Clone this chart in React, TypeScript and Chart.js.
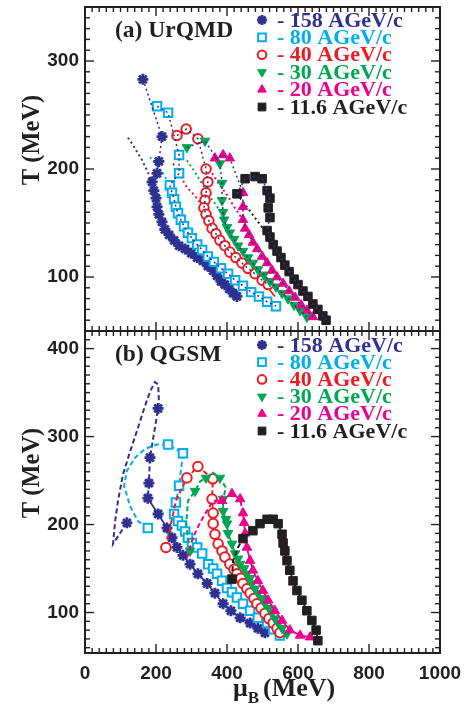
import React, { useEffect, useRef } from 'react';
import { Chart, registerables } from 'chart.js';
import { drawPoint } from 'chart.js/helpers';
Chart.register(...registerables);

// ---------- labels & ticks ----------
const seriesLabels = ['- 158 AGeV/c', '- 80 AGeV/c', '- 40 AGeV/c', '- 30 AGeV/c', '- 20 AGeV/c', '- 11.6 AGeV/c'];
const xTicks = [0, 200, 400, 600, 800, 1000];
const yTicksTop = [100, 200, 300];
const yTicksBottom = [100, 200, 300, 400];
const panelTopLabel = '(a) UrQMD';
const panelBottomLabel = '(b) QGSM';

// ---------- (a) UrQMD : [muB, T] ----------
const u158 = [[163,283],[217,230],[208,207],[203,196],[189,188],[194,180],[200,173],[203,165],[208,158],[217,151],[225,144],[237,139],[251,134],[265,129],[282,126],[299,122],[316,118],[332,115],[346,110],[361,106],[372,101],[383,96],[394,93],[406,89],[417,85],[428,82]];
const u158Early = [[121,229],[141,219],[161,208],[177,197],[189,188]];
const u80 = [[203,258],[234,252],[265,213],[265,196],[239,185],[245,178],[251,172],[256,165],[262,159],[270,153],[279,147],[290,141],[301,136],[316,130],[330,125],[346,119],[363,114],[383,108],[403,103],[423,97],[445,92],[468,86],[490,82],[513,77],[538,73]];
const u80Early = [[183,211],[200,204],[220,196],[239,185]];
const u40 = [[259,231],[285,237],[318,228],[341,200],[346,188],[341,178],[338,171],[335,164],[341,158],[349,152],[358,145],[369,140],[380,134],[394,129],[408,123],[425,118],[442,113],[459,108],[479,103],[499,97],[516,93]];
const u40Early = [[248,205],[268,194],[287,183],[310,175],[335,164]];
const u40Tail = [[341,158],[366,141],[403,127],[451,113],[499,97],[535,82]];
const u30 = [[287,220],[338,226],[380,205],[386,187],[386,171],[389,160],[392,153],[400,146],[408,141],[420,135],[431,129],[445,124],[459,118],[473,113],[487,107],[504,102],[521,96],[538,91],[555,85],[572,80],[589,74],[606,69],[625,63]];
const u30Early = [[287,208],[310,197],[332,185],[355,173],[375,164],[389,160]];
const u20 = [[366,210],[389,213],[408,210],[445,178],[445,165],[445,153],[451,145],[462,139],[473,132],[485,126],[499,119],[513,113],[527,106],[541,100],[558,94],[575,87],[592,81],[609,74],[625,69],[642,63]];
const u20Early = [[358,196],[380,185],[400,176],[420,165],[445,153]];
const u11 = [[428,177],[451,191],[479,193],[499,191],[513,180],[521,173],[516,164],[521,155],[513,143],[521,137],[530,130],[541,124],[552,118],[563,111],[575,105],[589,98],[600,93],[614,87],[628,82],[642,75],[656,70],[670,64],[679,60]];
const u11Early = [[428,177],[465,161],[499,146],[513,142]];

// ---------- (b) QGSM : [muB, T] ----------
const q158Path = [[118,202],[79,178],[85,204],[93,227],[107,257],[127,283],[146,306],[166,331],[183,351],[197,362],[206,359],[208,343],[206,332],[183,276],[180,247],[177,230]];
const q158 = [[118,202],[206,332],[183,276],[180,247],[177,230],[206,212],[231,196],[245,185],[259,174],[276,165],[296,155],[318,144],[344,133],[366,122],[389,110],[411,102],[437,94],[465,88],[487,82],[507,77]];
const q80Path = [[177,196],[149,204],[127,221],[110,244],[118,261],[141,276],[169,286],[203,291],[234,291],[276,281],[265,244],[256,225],[251,212]];
const q80 = [[177,196],[234,291],[276,281],[265,244],[256,225],[251,212],[262,204],[273,199],[282,192],[290,185],[301,179],[316,174],[330,167],[347,155],[361,150],[372,144],[386,136],[400,128],[414,123],[428,117],[445,110],[465,102],[487,94],[513,88],[530,81],[549,74]];
const q40Path = [[228,174],[239,195],[256,227],[287,253],[318,266],[360,252],[358,229]];
const q40 = [[228,174],[287,253],[318,266],[360,252],[358,229],[361,213],[361,201],[366,189],[375,178],[386,170],[394,163],[408,155],[420,149],[428,144],[439,139],[445,133],[456,127],[465,122],[476,116],[484,110],[496,105],[507,99],[518,93],[530,88],[541,82],[549,77]];
const q30Path = [[296,170],[285,199],[290,227],[310,238],[324,249],[341,253],[361,259],[380,253],[397,242],[389,229]];
const q30 = [[296,170],[310,238],[341,253],[380,253],[389,229],[389,215],[397,206],[400,201],[403,190],[414,178],[423,167],[431,161],[437,155],[448,150],[456,144],[465,139],[470,133],[479,127],[487,122],[499,116],[507,110],[518,105],[527,99],[535,93],[544,88],[555,82],[569,76]];
const q20Path = [[287,162],[304,185],[324,202],[344,216],[361,227],[386,227],[414,235],[437,229],[445,213]];
const q20 = [[386,227],[414,235],[437,229],[445,213],[448,202],[451,190],[456,174],[465,159],[473,148],[487,136],[501,125],[516,114],[535,102],[555,91],[577,80],[606,74],[634,72]];
const q11Path = [[414,138],[417,159],[431,174],[445,184]];
const q11 = [[414,138],[445,184],[473,193],[493,201],[513,206],[530,206],[544,201],[555,189],[558,179],[563,170],[569,159],[577,148],[586,136],[597,125],[611,114],[625,102],[639,91],[651,80],[656,68]];
const qSolidFrom = [4, 5, 4, 4, 3, 1];

// ---------- styles ----------
const NAVY = '#2E3192', CYAN = '#00AEEF', RED = '#ED1C24', GREEN = '#00A651', MAGENTA = '#EC008C', BLACK = '#231F20';
const seriesStyles = [
  { color: NAVY, pointStyle: 'star', rotation: 0, fill: NAVY, radius: 5.5, bw: 2.8 },
  { color: CYAN, pointStyle: 'rect', rotation: 0, fill: '#ffffff', radius: 6, bw: 2 },
  { color: RED, pointStyle: 'circle', rotation: 0, fill: '#ffffff', radius: 4.8, bw: 2 },
  { color: GREEN, pointStyle: 'triangle', rotation: 180, fill: GREEN, radius: 5.5, bw: 1 },
  { color: MAGENTA, pointStyle: 'triangle', rotation: 0, fill: MAGENTA, radius: 5.5, bw: 1 },
  { color: BLACK, pointStyle: 'rect', rotation: 0, fill: BLACK, radius: 6, bw: 1 },
];
const SERIF = "'Liberation Serif', 'Times New Roman', serif";
const SANS = "'Liberation Sans', Arial, sans-serif";

const pts = (a: number[][]) => a.map(([x, y]) => ({ x, y }));

function markerDs(data: number[][], i: number) {
  const s = seriesStyles[i];
  return {
    data: pts(data), showLine: false, pointStyle: s.pointStyle, rotation: s.rotation,
    pointRadius: s.radius, pointBorderWidth: s.bw, pointBackgroundColor: s.fill,
    pointBorderColor: s.color, borderColor: s.color, backgroundColor: s.fill,
  };
}
function lineDs(data: number[][], color: string, dash: number[], width: number) {
  return {
    data: pts(data), showLine: true, pointRadius: 0, borderColor: color,
    borderWidth: width, borderDash: dash, fill: false, tension: 0,
  };
}

function topDatasets() {
  const markers = [u158, u80, u40, u30, u20, u11];
  const early = [u158Early, u80Early, u40Early, u30Early, u20Early, u11Early];
  const ds: any[] = [];
  early.forEach((e, i) => ds.push(lineDs(e, seriesStyles[i].color, [2, 3], 2)));
  ds.push(lineDs(u40Tail, RED, [], 1.8));
  markers.forEach((m, i) => ds.push(markerDs(m, i)));
  markers.forEach((m) => ds.push(lineDs(m, NAVY, [2, 3], 1.5)));
  return ds.map((d, k) => ({ ...d, order: -k }));
}
function bottomDatasets() {
  const markers = [q158, q80, q40, q30, q20, q11];
  const paths = [q158Path, q80Path, q40Path, q30Path, q20Path, q11Path];
  const ds: any[] = [];
  markers.forEach((m, i) => {
    const c = seriesStyles[i].color;
    ds.push(lineDs(paths[i], c, [5, 3], 2));
    ds.push(lineDs(m.slice(qSolidFrom[i]), c, [], 1.8));
    ds.push(markerDs(m, i));
  });
  return ds.map((d, k) => ({ ...d, order: -k }));
}

type PanelOpts = {
  label: string; legendY0: number; legendStep: number; titleY: number; xTitle: boolean;
};

function framePlugin(o: PanelOpts) {
  return {
    id: 'frameDecor',
    afterDatasetsDraw(chart: any) {
      const { ctx, chartArea: a, scales } = chart;
      const xs = scales.x, ys = scales.y;
      ctx.save();
      ctx.strokeStyle = BLACK;
      ctx.lineWidth = 1.4;
      const seg = (x1: number, y1: number, x2: number, y2: number) => {
        ctx.beginPath(); ctx.moveTo(x1, y1); ctx.lineTo(x2, y2); ctx.stroke();
      };
      for (let v = 0; v <= 1000; v += 20) {
        const p = xs.getPixelForValue(v);
        const L = v % 200 === 0 ? 9 : 5;
        seg(p, a.bottom, p, a.bottom - L);
        seg(p, a.top, p, a.top + L);
      }
      for (let v = Math.ceil(ys.min / 10) * 10; v <= ys.max; v += 10) {
        const p = ys.getPixelForValue(v);
        const L = v % 100 === 0 ? 9 : 5;
        seg(a.left, p, a.left + L, p);
        seg(a.right, p, a.right - L, p);
      }
      ctx.lineWidth = 2;
      ctx.strokeRect(a.left, a.top, a.right - a.left, a.bottom - a.top);

      // panel label
      ctx.fillStyle = BLACK;
      ctx.font = `bold 23.5px ${SERIF}`;
      ctx.textAlign = 'left';
      ctx.textBaseline = 'middle';
      ctx.fillText(o.label, 115, a.top + 24);

      // legend
      seriesLabels.forEach((t, i) => {
        const s = seriesStyles[i];
        const y = o.legendY0 + i * o.legendStep;
        ctx.fillStyle = s.fill;
        ctx.strokeStyle = s.color;
        ctx.lineWidth = s.bw;
        drawPoint(ctx, { pointStyle: s.pointStyle, rotation: s.rotation, radius: s.radius - 0.5, borderWidth: s.bw } as any, 262, y);
        ctx.fillStyle = s.color;
        ctx.font = `bold 22px ${SERIF}`;
        ctx.textAlign = 'left';
        ctx.textBaseline = 'middle';
        ctx.fillText(t, 277, y + 1);
      });

      // y title
      ctx.save();
      ctx.translate(33, o.titleY);
      ctx.rotate(-Math.PI / 2);
      ctx.fillStyle = BLACK;
      ctx.font = `bold 24.5px ${SERIF}`;
      ctx.textAlign = 'center';
      ctx.textBaseline = 'middle';
      ctx.fillText('T (MeV)', 0, 0);
      ctx.restore();

      if (o.xTitle) {
        const base = a.bottom + 43;
        let x = 233;
        ctx.fillStyle = BLACK;
        ctx.textAlign = 'left';
        ctx.textBaseline = 'alphabetic';
        ctx.font = `bold 26px ${SERIF}`;
        ctx.fillText('μ', x, base);
        x += ctx.measureText('μ').width;
        ctx.font = `bold 17px ${SERIF}`;
        ctx.fillText('B', x, base + 7);
        x += ctx.measureText('B').width + 4;
        ctx.font = `bold 26px ${SERIF}`;
        ctx.fillText('(MeV)', x, base);
      }
      ctx.restore();
    },
  };
}

function zeroPad(s: any) {
  s.paddingTop = 0; s.paddingBottom = 0; s.paddingLeft = 0; s.paddingRight = 0;
}

function makeConfig(datasets: any[], yMin: number, yMax: number, yTicks: number[], showX: boolean, padTop: number, padBottom: number, o: PanelOpts): any {
  return {
    type: 'scatter',
    data: { datasets },
    options: {
      animation: false,
      responsive: false,
      maintainAspectRatio: false,
      devicePixelRatio: 1,
      events: [],
      layout: { autoPadding: false, padding: { left: 0, right: 28, top: padTop, bottom: padBottom } },
      plugins: { legend: { display: false }, tooltip: { enabled: false } },
      scales: {
        x: {
          type: 'linear', min: 0, max: 1000, display: showX,
          grid: { display: false, drawTicks: false }, border: { display: false },
          ticks: {
            font: { family: SANS, size: 19, weight: 'bold' }, color: BLACK, padding: 9, autoSkip: false, maxRotation: 0,
            callback: (v: number) => String(v),
          },
          afterBuildTicks: (s: any) => { s.ticks = xTicks.map((v) => ({ value: v })); },
          afterFit: (s: any) => { if (showX) s.height = 56; zeroPad(s); },
        },
        y: {
          type: 'linear', min: yMin, max: yMax,
          grid: { display: false, drawTicks: false }, border: { display: false },
          ticks: { font: { family: SANS, size: 19, weight: 'bold' }, color: BLACK, padding: 6, callback: (v: number) => String(v) },
          afterBuildTicks: (s: any) => { s.ticks = yTicks.map((v) => ({ value: v })); },
          afterFit: (s: any) => { s.width = 85; zeroPad(s); },
        },
      },
    },
    plugins: [framePlugin(o)],
  };
}

export default function App() {
  const topRef = useRef<HTMLCanvasElement>(null);
  const botRef = useRef<HTMLCanvasElement>(null);
  useEffect(() => {
    const c1 = new Chart(topRef.current as HTMLCanvasElement, makeConfig(topDatasets(), 50, 350, yTicksTop, false, 7, 1,
      { label: panelTopLabel, legendY0: 20, legendStep: 17.4, titleY: 140, xTitle: false }));
    const c2 = new Chart(botRef.current as HTMLCanvasElement, makeConfig(bottomDatasets(), 54, 420, yTicksBottom, true, 1, 0,
      { label: panelBottomLabel, legendY0: 15, legendStep: 17.2, titleY: 143, xTitle: true }));
    return () => { c1.destroy(); c2.destroy(); };
  }, []);
  return (
    <div style={{ position: 'fixed', left: 0, top: 0, width: 468, height: 709, background: '#fff' }}>
      <canvas ref={topRef} width={468} height={332} style={{ position: 'absolute', left: 0, top: 0, width: 468, height: 332 }} />
      <canvas ref={botRef} width={468} height={379} style={{ position: 'absolute', left: 0, top: 330, width: 468, height: 379 }} />
    </div>
  );
}
